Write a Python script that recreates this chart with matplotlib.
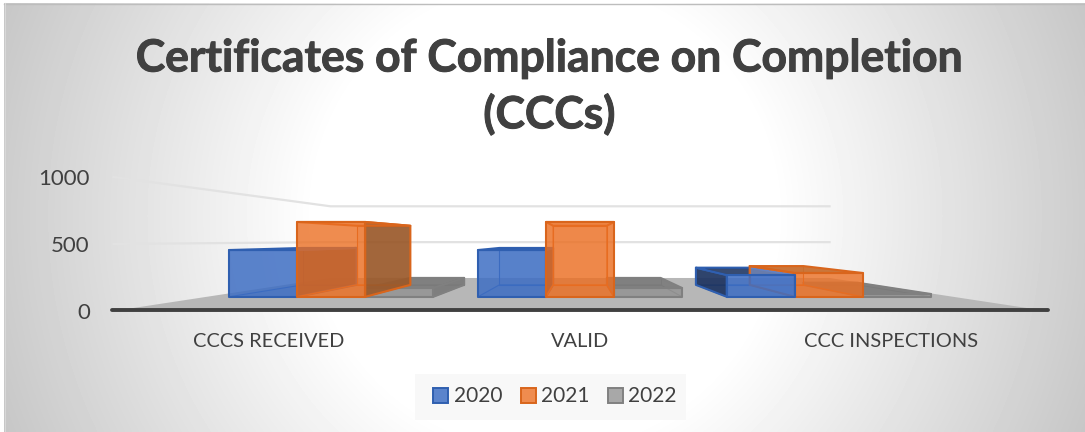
import numpy as np
import matplotlib
matplotlib.use("Agg")
import matplotlib.pyplot as plt
import matplotlib.patheffects as pe
from matplotlib.patches import Polygon, Patch, Rectangle

categories = ["CCCS RECEIVED", "VALID", "CCC INSPECTIONS"]
years = ["2020", "2021", "2022"]
values_2020 = [436, 436, 203]
values_2021 = [698, 698, 222]
values_2022 = [82, 82, 26]
y_ticks = [0, 500, 1000]

W, H = 1085, 432
plt.rcParams["font.family"] = ["Lato", "DejaVu Sans"]
TEXT = "#404040"

fig = plt.figure(figsize=(W / 100, H / 100), dpi=100, facecolor="white")


def px_axes(x0, y0, x1, y1):
    return fig.add_axes([x0 / W, 1 - y1 / H, (x1 - x0) / W, (y1 - y0) / H])


# card background with radial gradient
bg = fig.add_axes([0, 0, 1, 1], zorder=0)
xx, yy = np.meshgrid(np.arange(W) + 0.5, np.arange(H) + 0.5)
r = np.hypot(xx - 545, yy - 216)
shade = np.clip(255 - (r - 230) * (255 - 198) / (585 - 230), 198, 255) / 255
bg.imshow(shade, cmap="gray", vmin=0, vmax=1, extent=(0, W, H, 0), aspect="auto",
          interpolation="bilinear")
bg.add_patch(Rectangle((0, 0), 4, H, fc="white", ec="none"))
bg.add_patch(Rectangle((0, 0), W, 3, fc="white", ec="none"))
bg.plot([4, W], [3.5, 3.5], color="#bdbdbd", lw=1)
bg.plot([4.5, 4.5], [3, H], color="#d8d8d8", lw=0.8)
bg.add_patch(Rectangle((415, 374), 271, 46, fc="#f8f8f8", ec="none"))  # legend plate
bg.set_xlim(0, W)
bg.set_ylim(H, 0)
bg.axis("off")

# main axes: x = category index, y = value (front plane of the 3-D chart)
ax = px_axes(113.5, 177, 1046.5, 311)
ax.set_zorder(1)
ax.patch.set_alpha(0)
ax.set_xlim(-0.5, 2.5)
ax.set_ylim(0, 1000)
for s in ax.spines.values():
    s.set_visible(False)

# perspective projection in data units
vx, vy = 1.0, 530.0
K_WALL, K_FRONT, K_BACK = 0.535, 0.80, 0.632


def proj(x, v, k):
    return (vx + (x - vx) * k, vy + (v - vy) * k)


def face(pts, fc, alpha, ec=None, lw=1.0, z=2.0):
    ax.add_patch(Polygon(pts, closed=True, fc=matplotlib.colors.to_rgba(fc, alpha),
                         ec=ec if ec else "none", lw=lw if ec else 0,
                         zorder=z, clip_on=False, joinstyle="round"))


# walls & floor
x_l, x_r = -0.5, 2.5
for t in y_ticks[1:]:
    a = proj(x_l, t, 1.0)
    b = proj(x_l, t, K_WALL)
    c = proj(x_r, t, K_WALL)
    ax.plot([a[0], b[0], c[0]], [a[1], b[1], c[1]], color="#e2e2e2", lw=1.6,
            zorder=1, clip_on=False, solid_joinstyle="miter")
face([proj(x_l, 0, 1.0), proj(x_r, 0, 1.0), proj(x_r, 0, K_WALL), proj(x_l, 0, K_WALL)],
     "#b7b7b7", 1.0, z=1.5)
ax.plot([x_l - 0.006, x_r + 0.006], [4, 4], color="#404040", lw=2.8, zorder=9,
        clip_on=False, solid_capstyle="round")

# bars: values, x offset, front fill, front alpha, edge, dark side, legend fill
BAR_W = 0.2735
series = [
    (values_2020, -BAR_W, "#3e6ec3", 0.85, "#2f5fb0", "#1f3560", "#5b84cc"),
    (values_2022, BAR_W, "#929292", 0.80, "#808080", "#7a7a7a", "#a8a8a8"),
    (values_2021, 0.0, "#eb6f23", 0.80, "#d9651c", "#9a5a2c", "#ef8c4f"),
]


def draw_box(xc, v, fc, fa, ec, dark, z, front_z=None, side=None, top=None):
    x0, x1 = xc - BAR_W / 2, xc + BAR_W / 2
    f = lambda x, y: proj(x, y, K_FRONT)
    b = lambda x, y: proj(x, y, K_BACK)
    elw = 1.5
    face([b(x0, 0), b(x1, 0), b(x1, v), b(x0, v)], fc, 0.12, ec, 0.8, z)
    face([f(x0, 0), f(x1, 0), b(x1, 0), b(x0, 0)], fc, 0.15, ec, 0.8, z + 0.01)
    if x1 < vx:
        sc, sa = side or (dark, 0.92)
        face([f(x1, 0), b(x1, 0), b(x1, v), f(x1, v)], sc, sa, ec, elw, z + 0.02)
    elif x0 > vx:
        sc, sa = side or (dark, 0.92)
        face([f(x0, 0), b(x0, 0), b(x0, v), f(x0, v)], sc, sa, ec, elw, z + 0.02)
    else:
        face([f(x0, 0), b(x0, 0), b(x0, v), f(x0, v)], fc, 0.1, ec, 0.8, z + 0.02)
        face([f(x1, 0), b(x1, 0), b(x1, v), f(x1, v)], fc, 0.1, ec, 0.8, z + 0.02)
    tc, ta = top or ((dark, 0.88) if v < vy else (fc, 0.25))
    face([f(x0, v), f(x1, v), b(x1, v), b(x0, v)], tc, ta, ec, elw, z + 0.03)
    face([f(x0, 0), f(x1, 0), f(x1, v), f(x0, v)], fc, fa, ec, elw,
         (z + 0.04) if front_z is None else front_z)


for gi in range(len(categories)):
    for si, (vals, off, fc, fa, ec, dark, _) in enumerate(series):
        kw = {}
        if gi == 2 and si == 0:
            kw["front_z"] = 5.25          # blue front sits over orange's side wall
        if gi == 2 and si == 2:
            kw["side"] = ("#7f9fe0", 0.55)
            kw["top"] = ("#c96f30", 0.95)
        draw_box(gi + off, vals[gi], fc, fa, ec, dark, 3 + si + gi * 0.1, **kw)

# ticks & labels
ax.set_xticks(range(len(categories)), categories)
ax.set_yticks(y_ticks)
ax.tick_params(axis="both", length=0, labelcolor=TEXT)
ax.tick_params(axis="x", labelsize=14.4, pad=16)
ax.tick_params(axis="y", labelsize=16, pad=17)

# title
stroke = [pe.withStroke(linewidth=0.7, foreground=TEXT)]
fig.text(549.5 / W, 1 - 58.5 / H, "Certificates of Compliance on Completion", ha="center", va="center",
         fontsize=32, fontweight="bold", color=TEXT, zorder=5, path_effects=stroke)
fig.text(549.5 / W, 1 - 114.5 / H, "(CCCs)", ha="center", va="center",
         fontsize=32, fontweight="bold", color=TEXT, zorder=5, path_effects=stroke)

# legend (plate drawn on the background axes)
handles = [Patch(fc=series[i][6], ec=series[i][4], lw=1.4, label=y)
           for y, i in zip(years, [0, 2, 1])]
leg = fig.legend(handles=handles, loc="center", bbox_to_anchor=(555 / W, 1 - 396.5 / H),
                 ncol=3, frameon=False, fontsize=15, handlelength=0.72, handleheight=0.72,
                 handletextpad=0.26, columnspacing=0.87, labelcolor=TEXT)
leg.set_zorder(5)

fig.savefig("out.png", dpi=100)
